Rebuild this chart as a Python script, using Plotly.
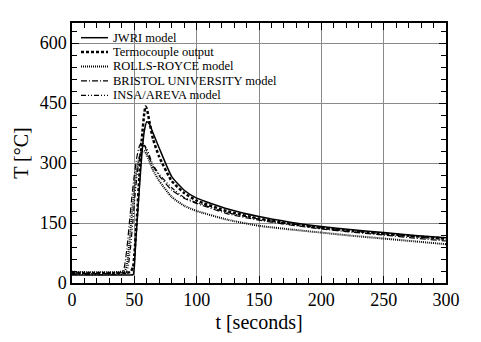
import plotly.graph_objects as go

# ---- data ----
jwri_t = [0, 46, 49, 50, 51, 52, 54, 56, 58, 60, 62, 65, 70, 80, 90, 100, 125, 150, 175, 200, 225, 250, 275, 300]
jwri_T = [20, 20, 21, 40, 95, 145, 235, 320, 380, 403, 398, 375, 337, 266, 232, 212, 185, 166, 152, 141, 133, 126, 119, 113]

tc_t = [0, 45, 47, 49, 50, 52, 54, 56, 58, 59, 60, 62, 65, 70, 80, 90, 100, 125, 150, 175, 200, 225, 250, 275, 300]
tc_T = [25, 26, 28, 40, 70, 160, 265, 360, 425, 441, 436, 405, 360, 315, 255, 225, 206, 179, 161, 148, 138, 130, 123, 117, 111]

rr_t = [0, 42, 44, 46, 48, 50, 52, 54, 56, 58, 60, 65, 70, 80, 90, 100, 125, 150, 175, 200, 225, 250, 275, 300]
rr_T = [28, 30, 45, 100, 170, 235, 285, 315, 328, 330, 320, 282, 255, 215, 193, 180, 158, 143, 134, 126, 118, 111, 104, 97]

br_t = [0, 40, 42, 44, 46, 48, 50, 52, 54, 56, 58, 60, 65, 70, 80, 90, 100, 125, 150, 175, 200, 225, 250, 275, 300]
br_T = [25, 26, 40, 85, 150, 215, 270, 315, 342, 352, 345, 328, 292, 268, 232, 212, 199, 173, 157, 145, 135, 127, 120, 112, 105]

insa_t = [0, 43, 45, 47, 49, 51, 53, 55, 57, 58, 60, 62, 65, 70, 80, 90, 100, 125, 150, 175, 200, 225, 250, 275, 300]
insa_T = [22, 24, 40, 90, 160, 235, 290, 325, 342, 344, 336, 320, 295, 272, 238, 214, 201, 176, 160, 148, 138, 130, 123, 116, 108]

names = ["JWRI model", "Termocouple output", "ROLLS-ROYCE model", "BRISTOL UNIVERSITY model", "INSA/AREVA model"]
xs = [jwri_t, tc_t, rr_t, br_t, insa_t]
ys = [jwri_T, tc_T, rr_T, br_T, insa_T]
dashes = ["solid", "3px,2px", "1px,1px", "6px,2px,1px,2px", "5px,2px,1px,2px,1px,2px"]
widths = [1.5, 2.5, 2, 1.2, 1.2]

FONT = "Times New Roman, Liberation Serif, serif"

fig = go.Figure()
for n, x, y, d, w in zip(names, xs, ys, dashes, widths):
    fig.add_trace(go.Scatter(x=x, y=y, mode="lines", name=n, showlegend=False,
                             line=dict(color="black", width=w, dash=d, shape="spline", smoothing=0.5)))

axis_common = dict(
    showline=True, linecolor="black", linewidth=1.5, mirror="ticks",
    ticks="inside", ticklen=7, tickwidth=1, tickcolor="black",
    showgrid=True, gridcolor="#8a8a8a", gridwidth=1, zeroline=False,
    tickfont=dict(family=FONT, size=18, color="black"),
)

fig.update_xaxes(range=[0, 300], dtick=50, tick0=0,
                 minor=dict(dtick=10, ticks="inside", ticklen=5, tickcolor="black", showgrid=False),
                 title=dict(text="t [seconds]", font=dict(family=FONT, size=20, color="black"), standoff=6),
                 **axis_common)
fig.update_yaxes(range=[0, 650], dtick=150, tick0=0,
                 minor=dict(dtick=30, ticks="inside", ticklen=5, tickcolor="black", showgrid=False),
                 title=dict(text="T [°C]", font=dict(family=FONT, size=20, color="black"), standoff=6),
                 **axis_common)

# legend drawn as a white box with line samples and text (paper coords)
L, R, T, B = 72, 446, 23, 283
def px2paper(x, y):
    return (x - L) / (R - L), (B - y) / (B - T)

shapes = []
annotations = []
x0, y0 = px2paper(73, 24)
x1, y1 = px2paper(277, 104)
shapes.append(dict(type="rect", xref="paper", yref="paper", x0=x0, x1=x1, y0=y1, y1=y0,
                   fillcolor="white", line=dict(width=0), layer="between"))
rows = [37.7, 51.9, 66.4, 80.9, 95.4]
for n, d, w, ry in zip(names, dashes, widths, rows):
    sx0, sy = px2paper(81, ry)
    sx1, _ = px2paper(108, ry)
    shapes.append(dict(type="line", xref="paper", yref="paper", x0=sx0, x1=sx1, y0=sy, y1=sy,
                       line=dict(color="black", width=w, dash=d), layer="above"))
    tx, ty = px2paper(111, ry)
    annotations.append(dict(xref="paper", yref="paper", x=tx, y=ty, xanchor="left", yanchor="middle",
                            text=n, showarrow=False,
                            font=dict(family=FONT, size=12.5, color="black")))

fig.update_layout(
    width=481, height=342,
    margin=dict(l=L, r=481 - R, t=T, b=342 - B),
    plot_bgcolor="white", paper_bgcolor="white",
    font=dict(family=FONT, color="black"),
    showlegend=False,
    shapes=shapes, annotations=annotations,
)

fig.write_html("out.html")
